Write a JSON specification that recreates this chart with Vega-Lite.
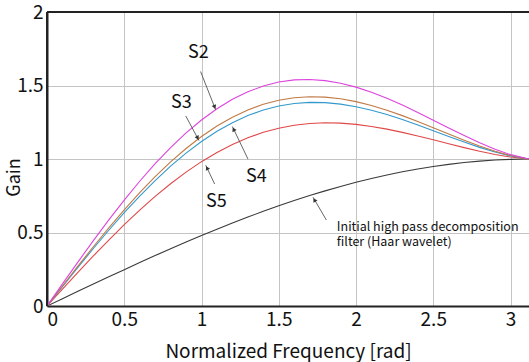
{
  "$schema": "https://vega.github.io/schema/vega-lite/v6.json",
  "width": 482,
  "height": 294,
  "autosize": {"type": "none"},
  "padding": {"left": 47, "top": 12, "right": 0, "bottom": 56},
  "background": "white",
  "config": {
    "view": {"stroke": null},
    "font": "Noto Sans CJK JP",
    "axis": {
      "labelFont": "Noto Sans CJK JP",
      "titleFont": "Noto Sans CJK JP",
      "labelColor": "#111",
      "titleColor": "#111",
      "domain": true,
      "domainColor": "#222222",
      "domainWidth": 2,
      "grid": true,
      "gridColor": "#c4c4c4",
      "gridOpacity": 1,
      "gridWidth": 1,
      "tickSize": 0,
      "titleFontWeight": "normal"
    }
  },
  "datasets": {
    "curves": [
      {"w": 0.0, "S2": 0, "S3": 0, "S4": 0, "S5": 0, "H": 0},
      {"w": 0.1, "S2": 0.1502, "S3": 0.1362, "S4": 0.1321, "S5": 0.1149, "H": 0.05},
      {"w": 0.2, "S2": 0.2989, "S3": 0.271, "S4": 0.2628, "S5": 0.2287, "H": 0.0998},
      {"w": 0.3, "S2": 0.4446, "S3": 0.4031, "S4": 0.391, "S5": 0.3404, "H": 0.1494},
      {"w": 0.4, "S2": 0.5857, "S3": 0.5312, "S4": 0.5153, "S5": 0.4488, "H": 0.1987},
      {"w": 0.5, "S2": 0.7208, "S3": 0.6541, "S4": 0.6344, "S5": 0.553, "H": 0.2474},
      {"w": 0.6, "S2": 0.8486, "S3": 0.7705, "S4": 0.7475, "S5": 0.6522, "H": 0.2955},
      {"w": 0.7, "S2": 0.968, "S3": 0.8796, "S4": 0.8533, "S5": 0.7453, "H": 0.3429},
      {"w": 0.8, "S2": 1.0779, "S3": 0.9802, "S4": 0.951, "S5": 0.8317, "H": 0.3894},
      {"w": 0.9, "S2": 1.1773, "S3": 1.0716, "S4": 1.0398, "S5": 0.9107, "H": 0.435},
      {"w": 1.0, "S2": 1.2655, "S3": 1.1532, "S4": 1.119, "S5": 0.9819, "H": 0.4794},
      {"w": 1.1, "S2": 1.3418, "S3": 1.2243, "S4": 1.1882, "S5": 1.0447, "H": 0.5227},
      {"w": 1.2, "S2": 1.4059, "S3": 1.2847, "S4": 1.2471, "S5": 1.099, "H": 0.5646},
      {"w": 1.3, "S2": 1.4575, "S3": 1.3341, "S4": 1.2953, "S5": 1.1445, "H": 0.6052},
      {"w": 1.4, "S2": 1.4965, "S3": 1.3724, "S4": 1.3331, "S5": 1.1814, "H": 0.6442},
      {"w": 1.5, "S2": 1.5233, "S3": 1.4, "S4": 1.3604, "S5": 1.2097, "H": 0.6816},
      {"w": 1.6, "S2": 1.538, "S3": 1.4169, "S4": 1.3775, "S5": 1.2296, "H": 0.7174},
      {"w": 1.7, "S2": 1.541, "S3": 1.4237, "S4": 1.3849, "S5": 1.2416, "H": 0.7513},
      {"w": 1.8, "S2": 1.5333, "S3": 1.421, "S4": 1.3833, "S5": 1.2461, "H": 0.7833},
      {"w": 1.9, "S2": 1.5156, "S3": 1.4096, "S4": 1.3734, "S5": 1.2438, "H": 0.8134},
      {"w": 2.0, "S2": 1.4888, "S3": 1.3902, "S4": 1.3558, "S5": 1.2353, "H": 0.8415},
      {"w": 2.1, "S2": 1.4542, "S3": 1.3639, "S4": 1.3318, "S5": 1.2214, "H": 0.8674},
      {"w": 2.2, "S2": 1.4131, "S3": 1.3317, "S4": 1.3023, "S5": 1.203, "H": 0.8912},
      {"w": 2.3, "S2": 1.3667, "S3": 1.295, "S4": 1.2686, "S5": 1.1811, "H": 0.9128},
      {"w": 2.4, "S2": 1.3165, "S3": 1.2549, "S4": 1.2316, "S5": 1.1566, "H": 0.932},
      {"w": 2.5, "S2": 1.264, "S3": 1.2128, "S4": 1.1929, "S5": 1.1304, "H": 0.949},
      {"w": 2.6, "S2": 1.2111, "S3": 1.17, "S4": 1.1536, "S5": 1.1037, "H": 0.9636},
      {"w": 2.7, "S2": 1.1593, "S3": 1.128, "S4": 1.1152, "S5": 1.0775, "H": 0.9757},
      {"w": 2.8, "S2": 1.1102, "S3": 1.0884, "S4": 1.0792, "S5": 1.0529, "H": 0.9854},
      {"w": 2.9, "S2": 1.0662, "S3": 1.0529, "S4": 1.047, "S5": 1.0311, "H": 0.9927},
      {"w": 3.0, "S2": 1.0297, "S3": 1.0235, "S4": 1.0206, "S5": 1.0134, "H": 0.9975},
      {"w": 3.1, "S2": 1.0046, "S3": 1.0034, "S4": 1.0031, "S5": 1.0019, "H": 0.9998},
      {"w": 3.1416, "S2": 1, "S3": 1, "S4": 1, "S5": 1, "H": 1}
    ],
    "arrows": [
      {"x": 0.994, "y": 1.595, "x2": 1.092, "y2": 1.334, "hx": 1.085, "hy": 1.353, "ang": 158},
      {"x": 0.898, "y": 1.293, "x2": 0.984, "y2": 1.125, "hx": 0.975, "hy": 1.143, "ang": 152},
      {"x": 1.301, "y": 0.999, "x2": 1.2, "y2": 1.221, "hx": 1.208, "hy": 1.202, "ang": 334},
      {"x": 1.085, "y": 0.83, "x2": 1.027, "y2": 0.958, "hx": 1.036, "hy": 0.939, "ang": 334},
      {"x": 1.808, "y": 0.585, "x2": 1.722, "y2": 0.74, "hx": 1.731, "hy": 0.722, "ang": 329}
    ],
    "labels": [
      {"x": 0.979, "y": 1.72, "t": "S2"},
      {"x": 0.87, "y": 1.38, "t": "S3"},
      {"x": 1.355, "y": 0.88, "t": "S4"},
      {"x": 1.096, "y": 0.71, "t": "S5"}
    ],
    "notes": [
      {"x": 1.876, "y": 0.538, "t": "Initial high pass decomposition"},
      {"x": 1.876, "y": 0.436, "t": "filter (Haar wavelet)"}
    ],
    "frameH": [{"v": 2}],
    "frameV": [{"v": 0}]
  },
  "layer": [
    {
      "data": {"name": "curves"},
      "transform": [{"fold": ["H", "S5", "S4", "S3", "S2"], "as": ["series", "gain"]}],
      "mark": {"type": "line", "strokeWidth": 1.1, "clip": true},
      "encoding": {
        "x": {
          "field": "w", "type": "quantitative",
          "scale": {"domain": [0, 3.1197], "nice": false, "zero": false},
          "axis": {
            "values": [0, 0.5, 1, 1.5, 2, 2.5, 3],
            "format": "~g",
            "title": "Normalized Frequency [rad]",
            "labelFontSize": 19, "titleFontSize": 19,
            "labelPadding": 4,
            "titleBaseline": "alphabetic",
            "titleY": 51,
            "grid": true
          }
        },
        "y": {
          "field": "gain", "type": "quantitative",
          "scale": {"domain": [0, 2], "nice": false},
          "axis": {
            "values": [0, 0.5, 1, 1.5, 2],
            "format": "~g",
            "title": "Gain",
            "labelFontSize": 19, "titleFontSize": 18,
            "labelPadding": 4,
            "titleX": -24,
            "titleY": 165,
            "titleBaseline": "bottom",
            "grid": true
          }
        },
        "color": {
          "field": "series", "type": "nominal",
          "scale": {
            "domain": ["H", "S5", "S4", "S3", "S2"],
            "range": ["#3a3a3a", "#e04848", "#3399cc", "#c07a45", "#dd44dd"]
          },
          "legend": null
        }
      }
    },
    {
      "data": {"name": "frameH"},
      "mark": {"type": "rule", "color": "#222222", "strokeWidth": 2},
      "encoding": {
        "y": {"field": "v", "type": "quantitative"}
      }
    },
    {
      "data": {"name": "frameV"},
      "mark": {"type": "rule", "color": "#222222", "strokeWidth": 2},
      "encoding": {
        "x": {"field": "v", "type": "quantitative"}
      }
    },
    {
      "data": {"name": "arrows"},
      "mark": {"type": "rule", "color": "#555", "strokeWidth": 0.9},
      "encoding": {
        "x": {"field": "x", "type": "quantitative"},
        "y": {"field": "y", "type": "quantitative"},
        "x2": {"field": "x2"},
        "y2": {"field": "y2"}
      }
    },
    {
      "data": {"name": "arrows"},
      "mark": {"type": "point", "shape": "triangle-up", "filled": true, "color": "#333", "size": 22, "opacity": 1},
      "encoding": {
        "x": {"field": "hx", "type": "quantitative"},
        "y": {"field": "hy", "type": "quantitative"},
        "angle": {"field": "ang", "type": "quantitative", "scale": null}
      }
    },
    {
      "data": {"name": "labels"},
      "mark": {"type": "text", "fontSize": 18, "font": "Noto Sans CJK JP", "color": "#111", "align": "center", "baseline": "middle"},
      "encoding": {
        "x": {"field": "x", "type": "quantitative"},
        "y": {"field": "y", "type": "quantitative"},
        "text": {"field": "t"}
      }
    },
    {
      "data": {"name": "notes"},
      "mark": {"type": "text", "fontSize": 12.5, "font": "Noto Sans CJK JP", "color": "#111", "align": "left", "baseline": "middle"},
      "encoding": {
        "x": {"field": "x", "type": "quantitative"},
        "y": {"field": "y", "type": "quantitative"},
        "text": {"field": "t"}
      }
    }
  ]
}
